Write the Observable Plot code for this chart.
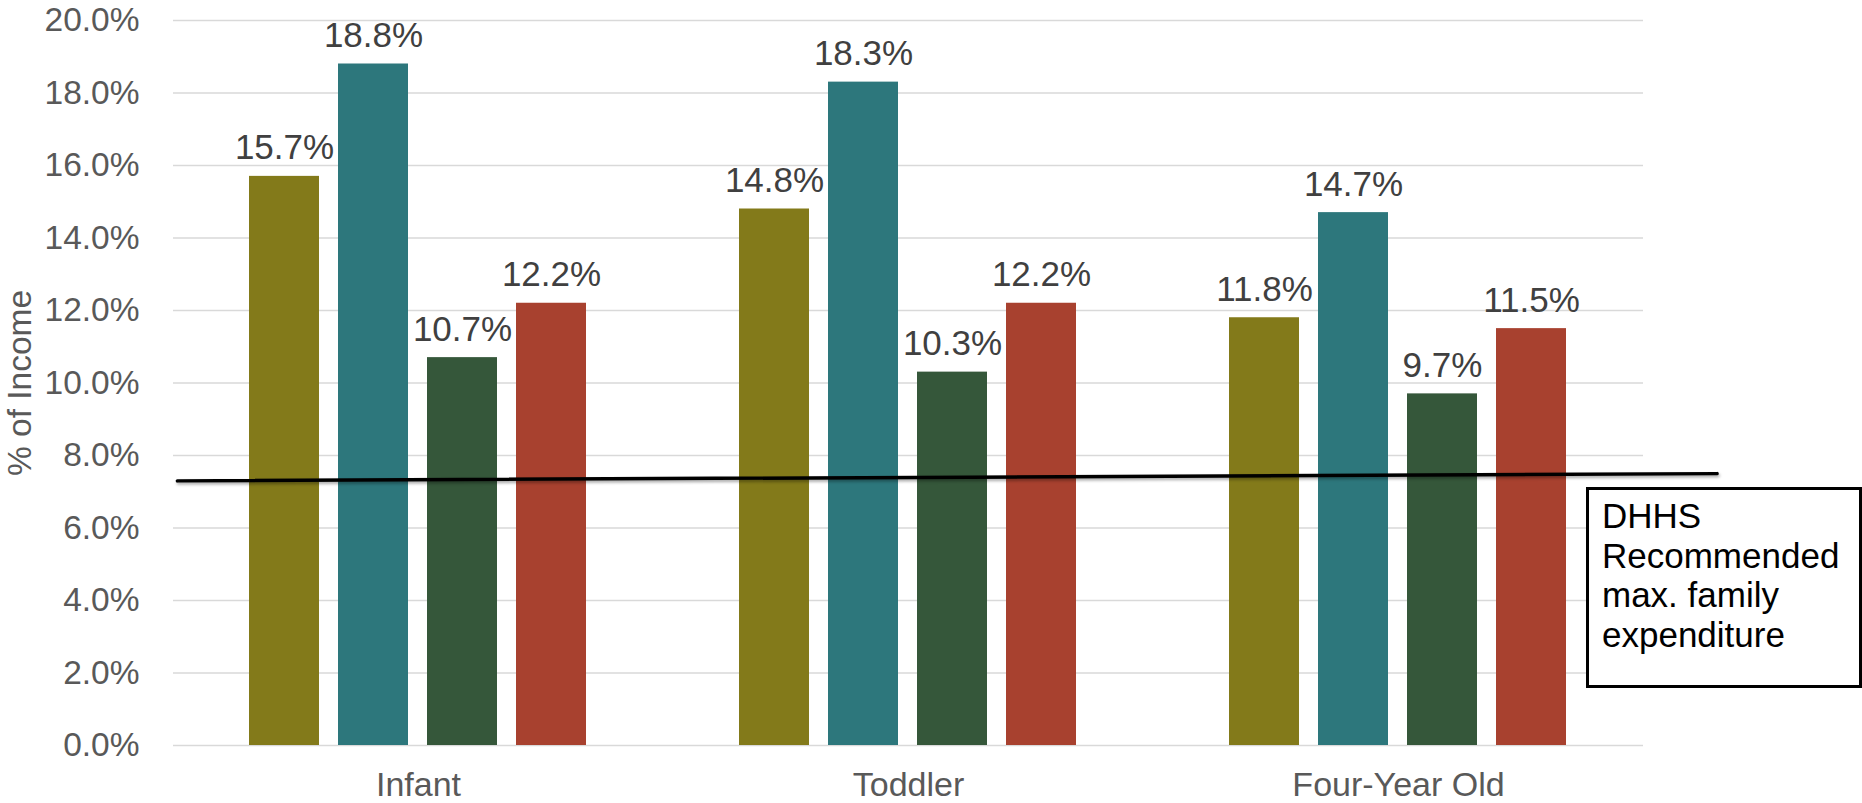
<!DOCTYPE html>
<html>
<head>
<meta charset="utf-8">
<script src="https://cdn.jsdelivr.net/npm/d3@7"></script>
<script src="https://cdn.jsdelivr.net/npm/@observablehq/plot@0.6"></script>
<style>
  html, body { margin: 0; padding: 0; background: #fff; }
  #wrap { position: relative; width: 1862px; height: 803px; font-family: "Liberation Sans", Arial, sans-serif; }
  #wrap svg { display: block; }
  #overlay { position: absolute; left: 0; top: 0; pointer-events: none; }
  #overlay svg { overflow: visible; filter: drop-shadow(1px 2px 1.5px rgba(0,0,0,0.35)); }
  #note {
    position: absolute; left: 1586px; top: 487px; width: 276px; height: 201px;
    box-sizing: border-box; border: 3px solid #000; background: #fff;
    padding: 6px 0 0 13px; font-size: 35px; line-height: 39.5px; color: #000;
  }
</style>
</head>
<body>
<div id="wrap"><div id="chart"></div><div id="overlay"></div><div id="note"></div></div>
<script>
// ---- data ----
const groups = ["Infant", "Toddler", "Four-Year Old"];
const series = ["Series 1", "Series 2", "Series 3", "Series 4"];
const infantValues = [15.7, 18.8, 10.7, 12.2];
const toddlerValues = [14.8, 18.3, 10.3, 12.2];
const fourYearOldValues = [11.8, 14.7, 9.7, 11.5];
const seriesColors = ["#837a1a", "#2d777c", "#35573a", "#a8412f"];
const yTicks = [0, 2, 4, 6, 8, 10, 12, 14, 16, 18, 20];
// hand-drawn reference line (% of income), x in group units across the chart
const refLineX = [0.01, 3.15];
const refLineY = [7.3, 7.5];
const noteLines = ["DHHS", "Recommended", "max. family", "expenditure"];

const valuesByGroup = [infantValues, toddlerValues, fourYearOldValues];
const data = groups.flatMap((g, gi) =>
  series.map((s, si) => ({ group: g, series: s, value: valuesByGroup[gi][si] }))
);

const W = 1862, H = 803;
const M = { top: 20, right: 219, bottom: 58, left: 172 };
const font = "'Liberation Sans', Arial, sans-serif";

const chart = Plot.plot({
  width: W, height: H,
  marginTop: M.top, marginRight: M.right, marginBottom: M.bottom, marginLeft: M.left,
  style: { fontFamily: font, background: "#fff" },
  fx: { domain: groups, padding: 0 },
  x: { domain: series, paddingInner: 0.213, paddingOuter: 0.857, axis: null },
  y: { domain: [0, 20] },
  color: { domain: series, range: seriesColors },
  marks: [
    Plot.gridY(yTicks, { stroke: "#d9d9d9", strokeOpacity: 1, strokeWidth: 1.5 }),
    Plot.barY(data, { fx: "group", x: "series", y: "value", fill: "series" }),
    Plot.text(data, {
      fx: "group", x: "series", y: "value",
      text: d => d.value.toFixed(1) + "%",
      lineAnchor: "bottom", dy: -17, fontSize: 35, fill: "#404040"
    }),
    Plot.axisY(yTicks, {
      tickFormat: d => d.toFixed(1) + "%", tickSize: 0, tickPadding: 34,
      fontSize: 33.5, color: "#595959",
      label: "% of Income", labelAnchor: "center", labelArrow: "none", labelOffset: 166
    }),
    Plot.axisFx({ anchor: "bottom", tickSize: 0, tickPadding: 26, fontSize: 34, color: "#595959", label: null })
  ]
});
document.getElementById("chart").appendChild(chart);

const refData = refLineX.map((x, i) => ({ x, y: refLineY[i] }));
const overlay = Plot.plot({
  width: W, height: H,
  marginTop: M.top, marginRight: M.right, marginBottom: M.bottom, marginLeft: M.left,
  style: { background: "transparent" },
  x: { domain: [0, groups.length], axis: null },
  y: { domain: [0, 20], axis: null },
  marks: [
    Plot.line(refData, { x: "x", y: "y", stroke: "#000", strokeWidth: 3.5 })
  ]
});
document.getElementById("overlay").appendChild(overlay);
document.getElementById("note").innerHTML = noteLines.join("<br>");
</script>
</body>
</html>
